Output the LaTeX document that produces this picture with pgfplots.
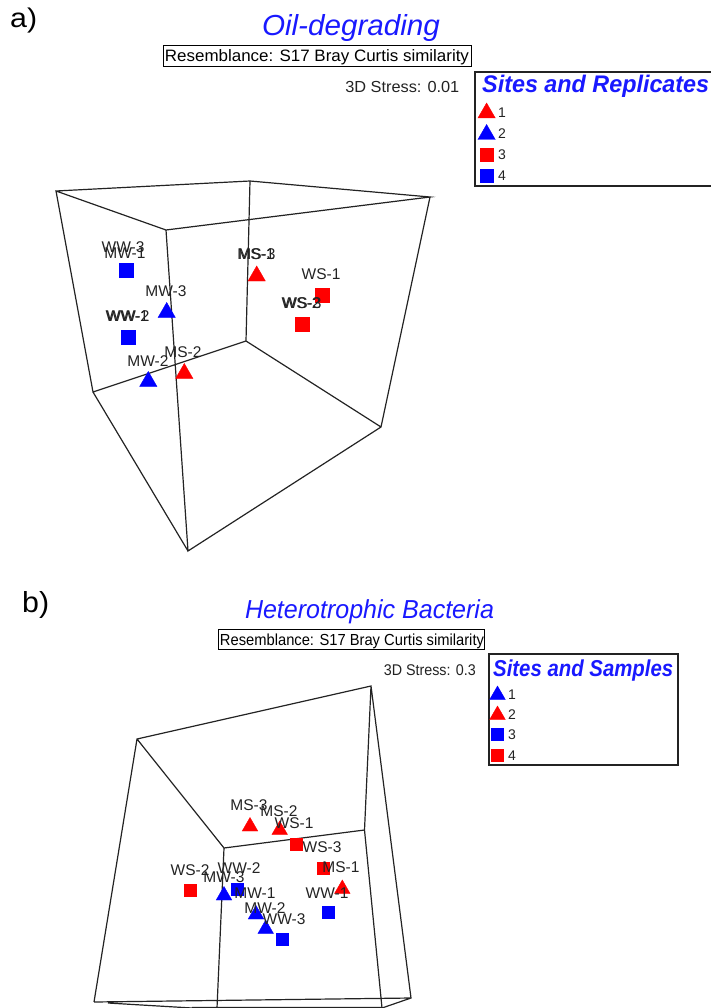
\documentclass[border=0pt]{standalone}
\usepackage{fontspec}
\setmainfont{Liberation Sans}
\usepackage{graphicx}
\usepackage{pgfplots}
\usepackage{pgfplotstable}
\pgfplotsset{compat=1.18}
\definecolor{pureblue}{RGB}{0,0,255}
\definecolor{purered}{RGB}{255,0,0}
\definecolor{titleblue}{RGB}{25,25,255}
\definecolor{inkgray}{RGB}{35,35,35}
% width-fitted text, keeps the natural height
\newcommand{\fit}[3]{\fontsize{#2}{#2}\selectfont\resizebox{#1pt}{\height}{#3}}

% cube edges, pixel coordinates of the picture
\pgfplotstableread{
x y
56 191
250 181
430 197
166 230
56 191
93 392
246 341
250 181
nan nan
166 230
188 551
381 427
430 197
nan nan
93 392
188 551
nan nan
246 341
381 427
}\cubeA
\pgfplotstableread{
x y
94 1002
137 739
371 686
364.5 830
224 848
137 739
nan nan
371 686
411 998
94 1002
nan nan
364.5 830
382 1008
nan nan
224 848
217 1008
nan nan
108 1003
192 1008
nan nan
411 998
382 1008
nan nan
192 1007.5
382 1007.5
}\cubeB

\pgfplotstableread{
x y label
123 247 WW-3
125 253 MW-1
127 316 WW-1
128 316.5 WW-2
166 291 MW-3
148 361 MW-2
183 352 MS-2
256 254 MS-1
257 254.5 MS-3
321 274 WS-1
301 303 WS-2
302 303.5 WS-3
}\labelsA
\pgfplotstableread{
x y label
249 805 MS-3
279 811 MS-2
294 823 WS-1
322 847 WS-3
341 867 MS-1
327 893 WW-1
190 870 WS-2
239 868 WW-2
224 877 MW-3
255 893 MW-1
265 908 MW-2
284 919 WW-3
}\labelsB

\begin{document}
\begin{tikzpicture}[x=1pt,y=1pt]
\path[use as bounding box] (0,0) rectangle (711,1008);
\begin{axis}[
at={(0,0)},anchor=south west,
scale only axis,
width=711pt,height=1008pt,
xmin=0,xmax=711,ymin=0,ymax=1008,
y dir=reverse,
hide axis,
unbounded coords=jump,
every axis plot/.append style={forget plot},
]
% cubes
\addplot[inkgray,line width=1.2pt,mark=none] table[x=x,y=y] {\cubeA};
\addplot[inkgray,line width=1.2pt,mark=none] table[x=x,y=y] {\cubeB};

% panel a points
\addplot[only marks,mark=triangle*,mark size=10pt,color=purered] coordinates {(256.7,276) (184.3,373.5)};
\addplot[only marks,mark=triangle*,mark size=10pt,color=pureblue] coordinates {(166.7,312.5) (148.3,381.5)};
\addplot[only marks,mark=square*,mark size=7pt,color=purered] coordinates {(322.3,295) (301.7,324)};
\addplot[only marks,mark=square*,mark size=7pt,color=pureblue] coordinates {(125.7,270) (127.7,337)};
% panel a legend keys
\addplot[only marks,mark=triangle*,mark size=10pt,color=purered] coordinates {(486.6,113)};
\addplot[only marks,mark=triangle*,mark size=10pt,color=pureblue] coordinates {(486.6,134.5)};
\addplot[only marks,mark=square*,mark size=6.5pt,color=purered] coordinates {(486.6,155)};
\addplot[only marks,mark=square*,mark size=6.5pt,color=pureblue] coordinates {(486.6,176)};

% panel b points
\addplot[only marks,mark=triangle*,mark size=9pt,color=purered] coordinates {(250,826.5) (279.7,830) (342.3,889)};
\addplot[only marks,mark=triangle*,mark size=9pt,color=pureblue] coordinates {(224,895.5) (256,914.5) (265.7,929)};
\addplot[only marks,mark=square*,mark size=6pt,color=purered] coordinates {(296,844) (323,868) (190,890)};
\addplot[only marks,mark=square*,mark size=6pt,color=pureblue] coordinates {(237,889) (328,912) (282,939)};
% panel b legend keys
\addplot[only marks,mark=triangle*,mark size=9pt,color=pureblue] coordinates {(497.5,695)};
\addplot[only marks,mark=triangle*,mark size=9pt,color=purered] coordinates {(497.5,715)};
\addplot[only marks,mark=square*,mark size=6pt,color=pureblue] coordinates {(497.5,734.5)};
\addplot[only marks,mark=square*,mark size=6pt,color=purered] coordinates {(497.5,755)};

% sample labels
\addplot[draw=none,mark=none,point meta=explicit symbolic,nodes near coords,
  every node near coord/.append style={anchor=center,inner sep=0pt,text=inkgray,font=\fontsize{15.5}{15.5}\selectfont},
  nodes near coords align={center}] table[x=x,y=y,meta=label] {\labelsA};
\addplot[draw=none,mark=none,point meta=explicit symbolic,nodes near coords,
  every node near coord/.append style={anchor=center,inner sep=0pt,text=inkgray,font=\fontsize{15.5}{15.5}\selectfont},
  nodes near coords align={center}] table[x=x,y=y,meta=label] {\labelsB};

% frames
\draw[black,line width=1pt] (axis cs:163,46) rectangle (axis cs:471,67);
\draw[black,line width=1pt] (axis cs:218.5,629) rectangle (axis cs:484,649);
\draw[inkgray,line width=1.2pt] (axis cs:475,72) rectangle (axis cs:720,186);
\draw[inkgray,line width=1.2pt] (axis cs:489,654) rectangle (axis cs:678,765);

% panel a text
\node[anchor=base west,inner sep=0pt] at (axis cs:10,28) {\fit{27}{27}{a)}};
\node[anchor=base,inner sep=0pt,text=titleblue] at (axis cs:351,36) {\fit{178}{29}{\itshape Oil-degrading}};
\node[anchor=base,inner sep=0pt] at (axis cs:317,62) {\fit{304}{16.5}{Resemblance: S17 Bray Curtis similarity}};
\node[anchor=base east,inner sep=0pt,text=inkgray] at (axis cs:459.5,93) {\fit{114}{16}{3D Stress: 0.01}};
\node[anchor=base west,inner sep=0pt,text=titleblue] at (axis cs:482,93) {\fit{227}{24}{\bfseries\itshape Sites and Replicates}};
\node[anchor=base west,inner sep=0pt,text=inkgray,font=\fontsize{14}{14}\selectfont] at (axis cs:498,118) {1};
\node[anchor=base west,inner sep=0pt,text=inkgray,font=\fontsize{14}{14}\selectfont] at (axis cs:498,139) {2};
\node[anchor=base west,inner sep=0pt,text=inkgray,font=\fontsize{14}{14}\selectfont] at (axis cs:498,160) {3};
\node[anchor=base west,inner sep=0pt,text=inkgray,font=\fontsize{14}{14}\selectfont] at (axis cs:498,181) {4};

% panel b text
\node[anchor=base west,inner sep=0pt] at (axis cs:22,612.5) {\fit{27}{29}{b)}};
\node[anchor=base,inner sep=0pt,text=titleblue] at (axis cs:369.5,618) {\fit{249}{26}{\itshape Heterotrophic Bacteria}};
\node[anchor=base,inner sep=0pt] at (axis cs:352,645) {\fit{264}{16}{Resemblance: S17 Bray Curtis similarity}};
\node[anchor=base east,inner sep=0pt,text=inkgray] at (axis cs:476,675) {\fit{92}{15.5}{3D Stress: 0.3}};
\node[anchor=base west,inner sep=0pt,text=titleblue] at (axis cs:493,676) {\fit{180}{23}{\bfseries\itshape Sites and Samples}};
\node[anchor=base west,inner sep=0pt,text=inkgray,font=\fontsize{14}{14}\selectfont] at (axis cs:508,699) {1};
\node[anchor=base west,inner sep=0pt,text=inkgray,font=\fontsize{14}{14}\selectfont] at (axis cs:508,719) {2};
\node[anchor=base west,inner sep=0pt,text=inkgray,font=\fontsize{14}{14}\selectfont] at (axis cs:508,739) {3};
\node[anchor=base west,inner sep=0pt,text=inkgray,font=\fontsize{14}{14}\selectfont] at (axis cs:508,760) {4};
\end{axis}
\end{tikzpicture}
\end{document}
